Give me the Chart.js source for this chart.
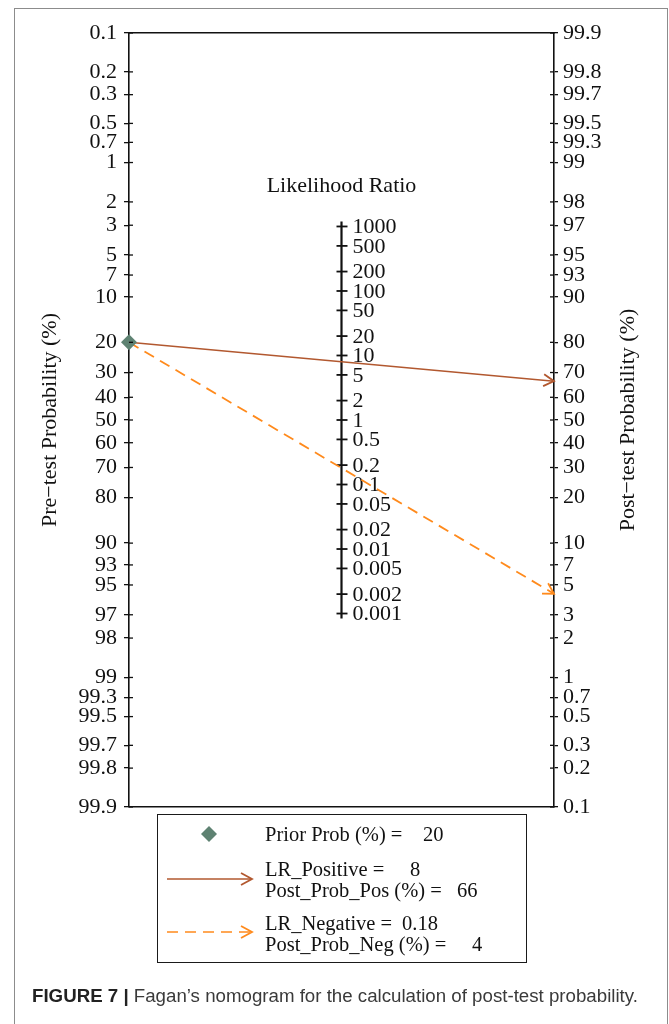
<!DOCTYPE html>
<html>
<head>
<meta charset="utf-8">
<script src="https://cdn.jsdelivr.net/npm/chart.js@4.4.1/dist/chart.umd.min.js"></script>
<style>
  html, body { margin: 0; padding: 0; background: #fff; }
  body { width: 669px; height: 1024px; position: relative; overflow: hidden; font-family: "Liberation Serif", serif; }
  #frame { position: absolute; left: 14px; top: 8px; width: 652px; height: 1040px; border: 1px solid #8c8c8c; }
  #c { position: absolute; left: 0; top: 0; }
  #legend { position: absolute; left: 157px; top: 814px; width: 368px; height: 147px; border: 1.5px solid #1a1a1a; }
  .lt { position: absolute; font-size: 20.5px; line-height: 1; white-space: nowrap; color: #111; transform: translateY(-50%); }
  .ic { position: absolute; }
  #caption { position: absolute; left: 32px; top: 987px; font-family: "Liberation Sans", Arial, sans-serif; font-size: 18.7px; color: #3a3a3a; white-space: nowrap; line-height: 1; }
  #caption b { color: #222; }
</style>
</head>
<body>
<div id="frame"></div>
<canvas id="c" width="669" height="1024"></canvas>
<div id="legend"></div>
<div id="caption"><b>FIGURE 7 |</b> Fagan’s nomogram for the calculation of post-test probability.</div>

<script>
// Fagan nomogram — pre-test prob (left), likelihood ratio (middle), post-test prob (right)

const preTicks = [0.1, 0.2, 0.3, 0.5, 0.7, 1, 2, 3, 5, 7, 10, 20, 30, 40, 50, 60, 70, 80, 90, 93, 95, 97, 98, 99, 99.3, 99.5, 99.7, 99.8, 99.9];
const postTicks = [99.9, 99.8, 99.7, 99.5, 99.3, 99, 98, 97, 95, 93, 90, 80, 70, 60, 50, 40, 30, 20, 10, 7, 5, 3, 2, 1, 0.7, 0.5, 0.3, 0.2, 0.1];
const lrTicks = [1000, 500, 200, 100, 50, 20, 10, 5, 2, 1, 0.5, 0.2, 0.1, 0.05, 0.02, 0.01, 0.005, 0.002, 0.001];

const priorProb = 20;
const lrLabels = ['LR_Positive', 'LR_Negative'];
const lrValues = [8, 0.18];
const postLabels = ['Post_Prob_Pos (%)', 'Post_Prob_Neg (%)'];
const postProbs = [66, 4];

const posColor = '#b2582f';
const negColor = '#ff8a1c';
const priorColor = '#5e8272';
const ink = '#111';
const serif = 'Liberation Serif';

// logit of a percentage — the nomogram's scale transform
const logit = p => Math.log(p / (100 - p));
const L = logit(99.9);

const preY = -logit(priorProb);
// line through the prior point and the LR point, carried on to the right axis
const lineData = lrValues.map(lr => {
    const mid = Math.log(lr) / 2;
    return [{ x: 0, y: preY }, { x: 0.5, y: mid }, { x: 1, y: 2 * mid - preY }];
});

const nomogramPlugin = {
    id: 'nomogram',
    beforeDatasetsDraw(chart) {
        const { ctx, scales: { x, y } } = chart;
        const mx = x.getPixelForValue(0.5);
        const yTop = y.getPixelForValue(Math.log(lrTicks[0]) / 2);
        const yBot = y.getPixelForValue(Math.log(lrTicks[lrTicks.length - 1]) / 2);
        ctx.save();
        ctx.strokeStyle = ink;
        ctx.lineWidth = 2.2;
        ctx.beginPath();
        ctx.moveTo(mx, yTop - 5);
        ctx.lineTo(mx, yBot + 5);
        ctx.stroke();
        ctx.lineWidth = 1.8;
        ctx.fillStyle = ink;
        ctx.font = `22px "${serif}"`;
        ctx.textBaseline = 'middle';
        ctx.textAlign = 'left';
        lrTicks.forEach(lr => {
            const py = y.getPixelForValue(Math.log(lr) / 2);
            ctx.beginPath();
            ctx.moveTo(mx - 5, py);
            ctx.lineTo(mx + 6, py);
            ctx.stroke();
            ctx.fillText(String(lr), mx + 11, py + 1);
        });
        ctx.textAlign = 'center';
        ctx.fillText('Likelihood Ratio', mx, yTop - 40);
        ctx.restore();
    },
    afterDatasetsDraw(chart) {
        const { ctx } = chart;
        ctx.save();
        [1, 2].forEach(i => {
            const meta = chart.getDatasetMeta(i);
            const pts = meta.data;
            const a = pts[pts.length - 1], b = pts[pts.length - 2];
            const ang = Math.atan2(a.y - b.y, a.x - b.x);
            const len = 12, spread = Math.PI / 6;
            ctx.strokeStyle = chart.data.datasets[i].borderColor;
            ctx.lineWidth = 1.8;
            ctx.setLineDash([]);
            ctx.beginPath();
            ctx.moveTo(a.x - len * Math.cos(ang - spread), a.y - len * Math.sin(ang - spread));
            ctx.lineTo(a.x, a.y);
            ctx.lineTo(a.x - len * Math.cos(ang + spread), a.y - len * Math.sin(ang + spread));
            ctx.stroke();
        });
        ctx.restore();
    },
    afterDraw(chart) {
        const { ctx, scales: { y, yR } } = chart;
        ctx.save();
        ctx.strokeStyle = ink;
        ctx.lineWidth = 1.3;
        // inner half of the cross ticks
        y.ticks.forEach(t => {
            const py = y.getPixelForValue(t.value);
            ctx.beginPath(); ctx.moveTo(y.right, py); ctx.lineTo(y.right + 4, py); ctx.stroke();
        });
        yR.ticks.forEach(t => {
            const py = yR.getPixelForValue(t.value);
            ctx.beginPath(); ctx.moveTo(yR.left - 4, py); ctx.lineTo(yR.left, py); ctx.stroke();
        });
        // right axis title reads bottom to top
        ctx.fillStyle = ink;
        ctx.font = `22px "${serif}"`;
        ctx.textAlign = 'center';
        ctx.textBaseline = 'middle';
        ctx.translate(628, (y.top + y.bottom) / 2);
        ctx.rotate(-Math.PI / 2);
        ctx.fillText('Post−test Probability (%)', 0, 0);
        ctx.restore();
    }
};

const tickFont = { family: serif, size: 22 };

new Chart(document.getElementById('c'), {
    type: 'line',
    data: {
        datasets: [
            {
                type: 'scatter',
                data: [{ x: 0, y: preY }],
                pointStyle: 'rectRot',
                pointRadius: 8,
                backgroundColor: priorColor,
                borderColor: priorColor,
                borderWidth: 0,
                clip: false
            },
            {
                data: lineData[0],
                borderColor: posColor,
                borderWidth: 1.5,
                pointRadius: 0,
                fill: false,
                clip: false
            },
            {
                data: lineData[1],
                borderColor: negColor,
                borderWidth: 1.8,
                borderDash: [11, 7],
                pointRadius: 0,
                fill: false,
                clip: false
            }
        ]
    },
    options: {
        responsive: false,
        animation: false,
        devicePixelRatio: 1,
        layout: { padding: 0 },
        plugins: { legend: { display: false }, tooltip: { enabled: false } },
        scales: {
            x: {
                type: 'linear', position: 'bottom', min: 0, max: 1,
                ticks: { display: false }, grid: { display: false },
                border: { display: true, color: ink, width: 1.6 },
                afterFit: s => { s.height = 217; }
            },
            xTop: {
                type: 'linear', position: 'top', min: 0, max: 1,
                ticks: { display: false }, grid: { display: false },
                border: { display: true, color: ink, width: 1.6 },
                afterFit: s => { s.height = 33; }
            },
            y: {
                type: 'linear', position: 'left', min: -L, max: L, z: 1,
                afterBuildTicks: s => { s.ticks = preTicks.map(p => ({ value: -logit(p) })); },
                ticks: { autoSkip: false, font: tickFont, color: ink, padding: 7, callback: (v, i) => String(preTicks[i]) },
                grid: { drawOnChartArea: false, drawTicks: true, tickLength: 5, color: ink, lineWidth: 1.3 },
                border: { display: true, color: ink, width: 1.6 },
                title: { display: true, text: 'Pre−test Probability (%)', font: tickFont, color: ink, padding: { top: 37, bottom: 0 } },
                afterFit: s => { s.width = 129; }
            },
            yR: {
                type: 'linear', position: 'right', min: -L, max: L,
                afterBuildTicks: s => { s.ticks = postTicks.map(q => ({ value: logit(q) })); },
                ticks: { autoSkip: false, font: tickFont, color: ink, padding: 5, callback: (v, i) => String(postTicks[i]) },
                grid: { drawOnChartArea: false, drawTicks: true, tickLength: 4, color: ink, lineWidth: 1.3 },
                border: { display: true, color: ink, width: 1.6 },
                afterFit: s => { s.width = 115; }
            }
        }
    },
    plugins: [nomogramPlugin]
});

// ── legend box (HTML) ──
function addText(txt, left, cy) {
    const el = document.createElement('div');
    el.className = 'lt';
    el.style.left = left + 'px';
    el.style.top = cy + 'px';
    el.textContent = txt;
    document.body.appendChild(el);
}
function addIcon(svg, left, top, w, h) {
    const el = document.createElement('div');
    el.className = 'ic';
    el.style.left = left + 'px';
    el.style.top = top + 'px';
    el.innerHTML = `<svg width="${w}" height="${h}" viewBox="0 0 ${w} ${h}">${svg}</svg>`;
    document.body.appendChild(el);
}

addIcon(`<polygon points="8,0 16,8 8,16 0,8" fill="${priorColor}"/>`, 201, 826, 16, 16);
addText('Prior Prob (%) =', 265, 834);
addText(String(priorProb), 423, 834);

const rowY = [[869, 890], [923, 944]];
const valX = [[410, 457], [402, 472]];
const lineY = [879, 932];
[posColor, negColor].forEach((col, i) => {
    const dash = i === 1 ? 'stroke-dasharray="11 7"' : '';
    addIcon(`<line x1="0" y1="7" x2="85" y2="7" stroke="${col}" stroke-width="1.6" ${dash}/>
             <polyline points="74,1 85,7 74,13" fill="none" stroke="${col}" stroke-width="1.8"/>`, 167, lineY[i] - 7, 87, 14);
    addText(lrLabels[i] + ' =', 265, rowY[i][0]);
    addText(String(lrValues[i]), valX[i][0], rowY[i][0]);
    addText(postLabels[i] + ' =', 265, rowY[i][1]);
    addText(String(postProbs[i]), valX[i][1], rowY[i][1]);
});
</script>
</body>
</html>
